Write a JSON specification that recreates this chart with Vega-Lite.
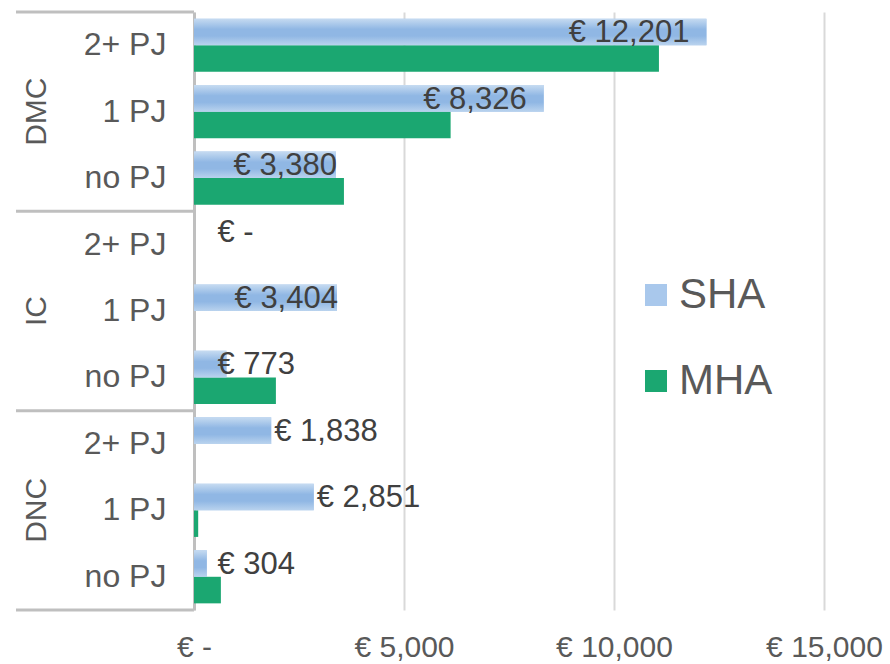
{
  "$schema": "https://vega.github.io/schema/vega-lite/v6.json",
  "padding": {"left": 14, "top": 10, "right": 0, "bottom": 0},
  "background": "white",
  "config": {
    "view": {"stroke": null},
    "font": "Liberation Sans",
    "locale": {"number": {"decimal": ".", "thousands": ",", "grouping": [3], "currency": ["€ ", ""]}}
  },
  "datasets": {
    "cost": [
      {"group": "DMC", "sub": "2+ PJ", "row": "DMC|2+ PJ", "SHA": 12201, "MHA": 11070},
      {"group": "DMC", "sub": "1 PJ", "row": "DMC|1 PJ", "SHA": 8326, "MHA": 6110},
      {"group": "DMC", "sub": "no PJ", "row": "DMC|no PJ", "SHA": 3380, "MHA": 3570},
      {"group": "IC", "sub": "2+ PJ", "row": "IC|2+ PJ", "SHA": 0, "MHA": 0},
      {"group": "IC", "sub": "1 PJ", "row": "IC|1 PJ", "SHA": 3404, "MHA": 0},
      {"group": "IC", "sub": "no PJ", "row": "IC|no PJ", "SHA": 773, "MHA": 1950},
      {"group": "DNC", "sub": "2+ PJ", "row": "DNC|2+ PJ", "SHA": 1838, "MHA": 0},
      {"group": "DNC", "sub": "1 PJ", "row": "DNC|1 PJ", "SHA": 2851, "MHA": 100},
      {"group": "DNC", "sub": "no PJ", "row": "DNC|no PJ", "SHA": 304, "MHA": 640}
    ]
  },
  "spacing": 0,
  "bounds": "flush",
  "hconcat": [
    {
      "width": 178,
      "height": 598,
      "data": {"name": "cost"},
      "layer": [
        {
          "transform": [{"filter": "datum.sub === '2+ PJ'"}],
          "mark": {"type": "rule", "color": "#bfbfbf", "strokeWidth": 3},
          "encoding": {
            "y": {"field": "row", "type": "nominal", "bandPosition": 0, "axis": null,
                  "scale": {"domain": ["DMC|2+ PJ", "DMC|1 PJ", "DMC|no PJ", "IC|2+ PJ", "IC|1 PJ", "IC|no PJ", "DNC|2+ PJ", "DNC|1 PJ", "DNC|no PJ"], "paddingInner": 0, "paddingOuter": 0}}
          }
        },
        {
          "transform": [{"filter": "datum.row === 'DNC|no PJ'"}],
          "mark": {"type": "rule", "color": "#bfbfbf", "strokeWidth": 3},
          "encoding": {
            "y": {"field": "row", "type": "nominal", "bandPosition": 1, "axis": null}
          }
        },
        {
          "transform": [{"filter": "datum.sub === '1 PJ'"}],
          "mark": {"type": "text", "angle": 270, "fontSize": 30, "color": "#595959", "align": "center", "baseline": "middle"},
          "encoding": {
            "y": {"field": "row", "type": "nominal", "axis": null},
            "x": {"datum": 0.12, "type": "quantitative", "scale": {"domain": [0, 1]}, "axis": null},
            "text": {"field": "group", "type": "nominal"}
          }
        },
        {
          "mark": {"type": "text", "fontSize": 32, "color": "#595959", "align": "right", "baseline": "middle"},
          "encoding": {
            "y": {"field": "row", "type": "nominal", "axis": null},
            "x": {"datum": 0.845, "type": "quantitative", "axis": null},
            "text": {"field": "sub", "type": "nominal"}
          }
        }
      ]
    },
    {
      "width": 630,
      "height": 598,
      "data": {"name": "cost"},
      "layer": [
        {
          "transform": [{"fold": ["SHA", "MHA"], "as": ["series", "value"]}],
          "mark": {"type": "bar"},
          "encoding": {
            "y": {"field": "row", "type": "nominal",
                  "scale": {"domain": ["DMC|2+ PJ", "DMC|1 PJ", "DMC|no PJ", "IC|2+ PJ", "IC|1 PJ", "IC|no PJ", "DNC|2+ PJ", "DNC|1 PJ", "DNC|no PJ"], "paddingInner": 0, "paddingOuter": 0},
                  "axis": {"title": null, "labels": false, "ticks": false, "domain": true, "domainColor": "#bfbfbf", "domainWidth": 3, "grid": false}},
            "yOffset": {"field": "series", "type": "nominal", "scale": {"domain": ["SHA", "MHA"], "paddingInner": 0, "paddingOuter": 0.25}},
            "x": {"field": "value", "type": "quantitative",
                  "scale": {"domain": [0, 15000], "nice": false},
                  "axis": {"values": [0, 5000, 10000, 15000], "labelExpr": "datum.value === 0 ? '€ -' : '€ ' + format(datum.value, ',')", "title": null, "domain": false, "ticks": false, "grid": true, "gridColor": "#d9d9d9", "gridWidth": 2, "labelFontSize": 30, "labelColor": "#595959", "labelPadding": 22, "labelFlush": false, "labelFont": "Liberation Sans"}},
            "color": {"field": "series", "type": "nominal",
                      "scale": {"domain": ["SHA", "MHA"], "range": ["#a9c8ec", "#1ba771"]},
                      "legend": {"title": null, "orient": "none", "legendX": 619, "legendY": 262, "symbolType": "square", "symbolSize": 484, "labelFontSize": 42, "labelColor": "#595959", "labelFont": "Liberation Sans", "labelOffset": 2, "rowPadding": 44, "padding": 0, "symbolStrokeWidth": 0}}
          }
        },
        {
          "transform": [{"fold": ["SHA"], "as": ["series", "value"]}],
          "mark": {"type": "bar", "color": {"gradient": "linear", "x1": 0, "y1": 0, "x2": 0, "y2": 1, "stops": [
                          {"offset": 0, "color": "#c6dbf1"},
                          {"offset": 0.4, "color": "#90b7e4"},
                          {"offset": 0.65, "color": "#90b7e4"},
                          {"offset": 1, "color": "#bad3ee"}]}},
          "encoding": {
            "y": {"field": "row", "type": "nominal"},
            "yOffset": {"field": "series", "type": "nominal"},
            "x": {"field": "value", "type": "quantitative"}
          }
        },
        {
          "transform": [{"filter": "datum.SHA >= 5000"}],
          "mark": {"type": "text", "align": "right", "baseline": "middle", "dx": -17, "dy": -12, "fontSize": 31, "color": "#404040"},
          "encoding": {
            "y": {"field": "row", "type": "nominal"},
            "x": {"field": "SHA", "type": "quantitative"},
            "text": {"field": "SHA", "type": "quantitative", "format": "$,.0f"}
          }
        },
        {
          "transform": [{"filter": "datum.SHA >= 3000 && datum.SHA < 5000"}],
          "mark": {"type": "text", "align": "right", "baseline": "middle", "dx": 1, "dy": -12, "fontSize": 31, "color": "#404040"},
          "encoding": {
            "y": {"field": "row", "type": "nominal"},
            "x": {"field": "SHA", "type": "quantitative"},
            "text": {"field": "SHA", "type": "quantitative", "format": "$,.0f"}
          }
        },
        {
          "transform": [{"filter": "datum.SHA >= 1000 && datum.SHA < 3000"}],
          "mark": {"type": "text", "align": "left", "baseline": "middle", "dx": 3, "dy": -12, "fontSize": 31, "color": "#404040"},
          "encoding": {
            "y": {"field": "row", "type": "nominal"},
            "x": {"field": "SHA", "type": "quantitative"},
            "text": {"field": "SHA", "type": "quantitative", "format": "$,.0f"}
          }
        },
        {
          "transform": [{"filter": "datum.SHA < 1000"}],
          "mark": {"type": "text", "align": "left", "baseline": "middle", "dy": -12, "fontSize": 31, "color": "#404040"},
          "encoding": {
            "y": {"field": "row", "type": "nominal"},
            "x": {"datum": 560, "type": "quantitative"},
            "text": {"condition": {"test": "datum.SHA === 0", "value": "€ -"}, "field": "SHA", "type": "quantitative", "format": "$,.0f"}
          }
        }
      ]
    }
  ]
}
